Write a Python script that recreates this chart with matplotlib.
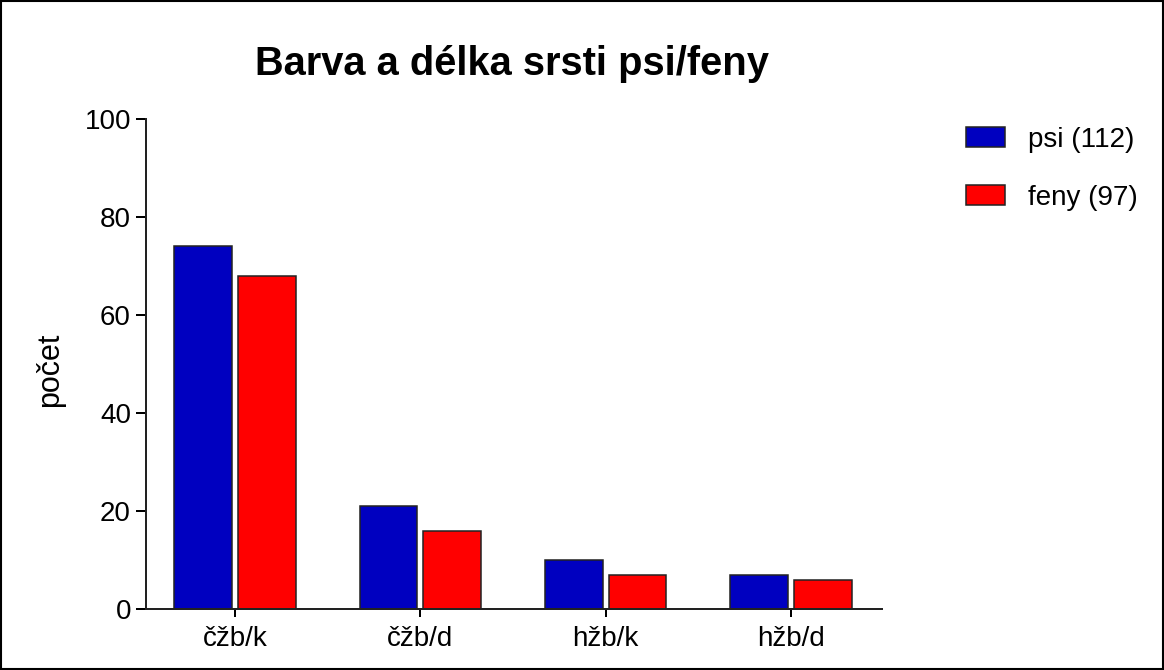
import numpy as np
import matplotlib.pyplot as plt
from matplotlib.patches import Rectangle

plt.rcParams['font.family'] = ['Liberation Sans', 'DejaVu Sans']

# data
kategorie = ['čžb/k', 'čžb/d', 'hžb/k', 'hžb/d']
psi = [74, 21, 10, 7]
feny = [68, 16, 7, 6]
serie_nazvy = ['psi (112)', 'feny (97)']
barvy = ['#0000C0', '#FF0000']

fig = plt.figure(figsize=(11.64, 6.7), dpi=100)
ax = fig.add_axes([0.1254, 0.091, 0.6323, 0.7313])

x = np.arange(len(kategorie))
w = 0.31
ax.bar(x - 0.172, psi, w, color=barvy[0], edgecolor='#222222', linewidth=1.1, label=serie_nazvy[0])
ax.bar(x + 0.172, feny, w, color=barvy[1], edgecolor='#222222', linewidth=1.1, label=serie_nazvy[1])

ax.set_xlim(-0.48, 3.49)
ax.set_ylim(0, 100)
ax.set_yticks(range(0, 101, 20))
ax.set_xticks(x)
ax.set_xticklabels(kategorie)
ax.tick_params(axis='y', direction='out', length=7.2, width=1.44, labelsize=20, pad=3.6)
ax.tick_params(axis='x', direction='out', length=5.8, width=1.44, labelsize=20, pad=6.5)
for s in ['top', 'right']:
    ax.spines[s].set_visible(False)
for s in ['left', 'bottom']:
    ax.spines[s].set_linewidth(1.44)
    ax.spines[s].set_color('#222222')

ax.set_ylabel('počet', fontsize=22)
ax.yaxis.set_label_coords(-0.110, 0.488)
fig.text(0.4394, 1 - 75 / 670, 'Barva a délka srsti psi/feny', ha='center', va='baseline',
         fontsize=28.7, fontweight='bold')

ax.legend(loc='upper left', bbox_to_anchor=(952 / 1164, 1 - 113 / 670), bbox_transform=fig.transFigure,
          frameon=False, fontsize=20, borderpad=0, handlelength=1.4, handleheight=0.72,
          handletextpad=0.83, labelspacing=1.15)

# ramecek kolem obrazku
fig.patches.append(Rectangle((0.001, 0.001), 0.998, 0.998, transform=fig.transFigure,
                             fill=False, edgecolor='black', linewidth=1.5))

fig.savefig('out.png', dpi=100)
